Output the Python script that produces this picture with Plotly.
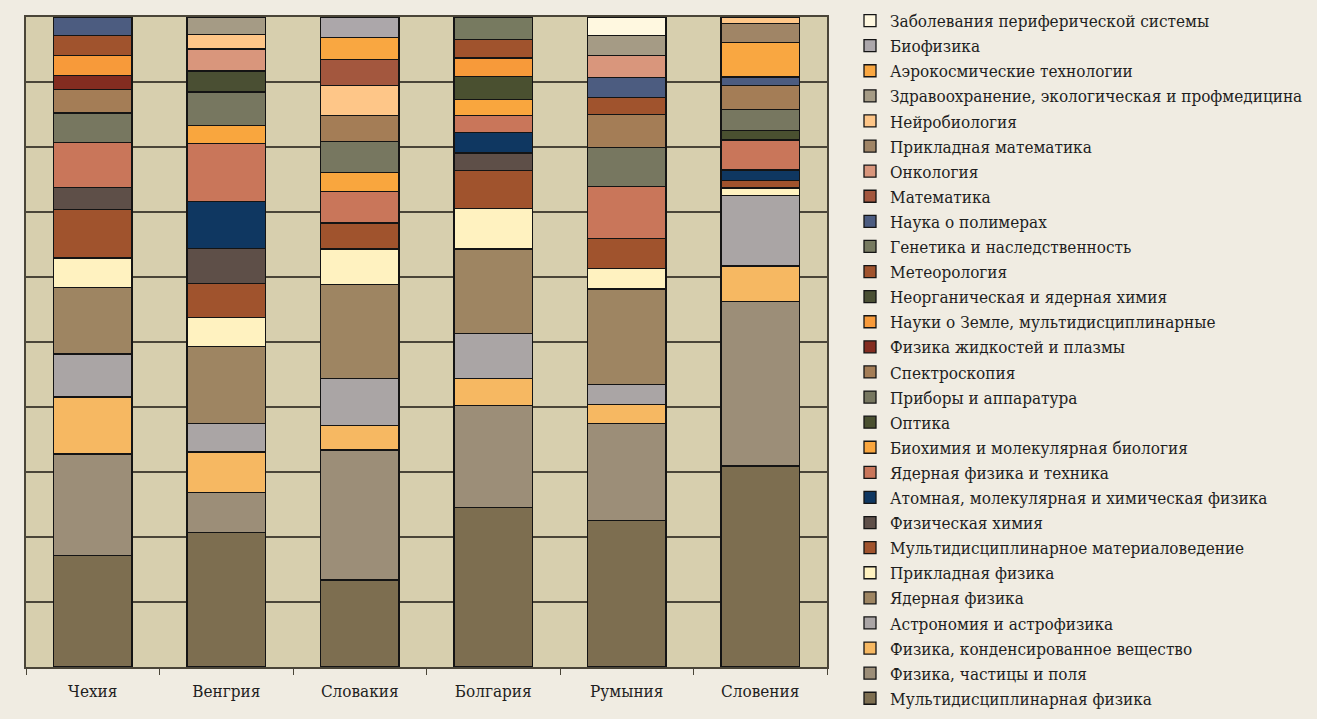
import plotly.graph_objects as go

countries = ["Чехия", "Венгрия", "Словакия", "Болгария", "Румыния", "Словения"]

# Legend order (top to bottom), with colours
legend_names = [
    "Заболевания периферической системы",
    "Биофизика",
    "Аэрокосмические технологии",
    "Здравоохранение, экологическая и профмедицина",
    "Нейробиология",
    "Прикладная математика",
    "Онкология",
    "Математика",
    "Наука о полимерах",
    "Генетика и наследственность",
    "Метеорология",
    "Неорганическая и ядерная химия",
    "Науки о Земле, мультидисциплинарные",
    "Физика жидкостей и плазмы",
    "Спектроскопия",
    "Приборы и аппаратура",
    "Оптика",
    "Биохимия и молекулярная биология",
    "Ядерная физика и техника",
    "Атомная, молекулярная и химическая физика",
    "Физическая химия",
    "Мультидисциплинарное материаловедение",
    "Прикладная физика",
    "Ядерная физика",
    "Астрономия и астрофизика",
    "Физика, конденсированное вещество",
    "Физика, частицы и поля",
    "Мультидисциплинарная физика",
]
legend_colors = [
    "#fff8e0", "#aca7aa", "#f9a741", "#a59b85", "#fec688", "#a08566",
    "#d9967c", "#a3573e", "#4c5c80", "#777a60", "#a0532d", "#4a4f33",
    "#f79a3a", "#832c20", "#a47d56", "#777760", "#4a5030", "#f9a63e",
    "#c9765a", "#0f3761", "#5e4f48", "#a0532d", "#fff2c0", "#9e8562",
    "#aaa5a5", "#f6b862", "#9c8e78", "#7d6e50",
]

# Stack layers, bottom to top (one category appears twice)
stack_order = [
    "Мультидисциплинарная физика",
    "Физика, частицы и поля",
    "Физика, конденсированное вещество",
    "Астрономия и астрофизика",
    "Ядерная физика",
    "Прикладная физика",
    "Мультидисциплинарное материаловедение",
    "Физическая химия",
    "Атомная, молекулярная и химическая физика",
    "Ядерная физика и техника",
    "Биохимия и молекулярная биология",
    "Оптика",
    "Приборы и аппаратура",
    "Спектроскопия",
    "Физика жидкостей и плазмы",
    "Науки о Земле, мультидисциплинарные",
    "Неорганическая и ядерная химия",
    "Метеорология",
    "Генетика и наследственность",
    "Наука о полимерах",
    "Аэрокосмические технологии",
    "Онкология",
    "Прикладная математика",
    "Нейробиология",
    "Математика",
    "Здравоохранение, экологическая и профмедицина",
    "Аэрокосмические технологии",
    "Биофизика",
    "Заболевания периферической системы",
]

# Shares (%) per country, aligned with stack_order
czech =    [17.2, 15.6, 8.8, 6.6, 10.2, 4.6, 7.5, 3.3, 0, 7.0, 0, 0, 4.5, 3.6, 2.2, 3.1, 0, 3.0, 0, 2.9, 0, 0, 0, 0, 0, 0, 0, 0, 0]
hungary =  [20.6, 6.2, 6.2, 4.4, 11.8, 4.4, 5.2, 5.4, 7.2, 8.9, 2.8, 0, 5.1, 0, 0, 0, 3.2, 0, 0, 0, 0, 3.4, 0, 2.2, 0, 2.7, 0, 0, 0]
slovakia = [13.4, 20.0, 3.8, 7.2, 14.4, 5.5, 4.0, 0, 0, 4.9, 2.9, 0, 4.8, 4.0, 0, 0, 0, 0, 0, 0, 0, 0, 0, 4.6, 4.0, 0, 3.3, 3.2, 0]
bulgaria = [24.5, 15.7, 4.2, 6.9, 13.0, 6.2, 5.9, 2.7, 3.1, 2.7, 2.4, 3.6, 0, 0, 0, 2.8, 0, 2.8, 3.5, 0, 0, 0, 0, 0, 0, 0, 0, 0, 0]
romania =  [22.5, 14.9, 2.9, 3.1, 14.7, 3.1, 4.7, 0, 0, 7.9, 0, 0, 6.0, 5.1, 0, 0, 0, 2.6, 0, 3.1, 0, 3.4, 0, 0, 0, 3.1, 0, 0, 2.8]
slovenia = [30.9, 25.3, 5.4, 10.8, 0, 1.2, 1.15, 0, 1.6, 4.6, 0, 1.5, 3.2, 3.7, 0, 0, 0, 0, 0, 1.3, 5.3, 0, 2.9, 1.0, 0, 0, 0, 0, 0]

country_values = [czech, hungary, slovakia, bulgaria, romania, slovenia]

color_of = dict(zip(legend_names, legend_colors))
rank_of = {n: i + 1 for i, n in enumerate(legend_names)}

FONT = "DejaVu Serif Condensed, Liberation Serif, serif"

fig = go.Figure()
for li, name in enumerate(stack_order):
    vals = [cv[li] if cv[li] else None for cv in country_values]
    last_idx = max(i for i, n in enumerate(stack_order) if n == name)
    fig.add_trace(go.Bar(
        x=countries, y=vals, name=name,
        marker=dict(color=color_of[name], line=dict(color="#141414", width=1.3)),
        showlegend=(li == last_idx), legendrank=rank_of[name],
        hovertemplate="%{x}: %{y:.1f}%<extra>" + name + "</extra>",
    ))

fig.update_layout(
    width=1317, height=719,
    barmode="stack", barnorm="percent", bargap=0.41,
    paper_bgcolor="#f0ece2", plot_bgcolor="#d7cfae",
    margin=dict(l=26, r=490, t=17, b=52, autoexpand=False),
    font=dict(family=FONT, size=17, color="#1e1e1e"),
    legend=dict(
        xref="container", yref="container",
        x=850 / 1317, xanchor="left", y=1.0 - 3 / 719, yanchor="top",
        bgcolor="rgba(0,0,0,0)", traceorder="normal", maxheight=1.0,
        font=dict(size=17, family=FONT, color="#1e1e1e"),
    ),
    xaxis=dict(
        showline=True, mirror=True, linecolor="#4a4538", linewidth=2,
        ticks="outside", tickson="boundaries", ticklen=6, tickcolor="#4a4538",
        showgrid=False, tickfont=dict(size=17), ticklabelstandoff=8,
    ),
    yaxis=dict(
        range=[0, 100], dtick=10, showticklabels=False,
        showgrid=True, gridcolor="#4a4538", gridwidth=1.6,
        showline=True, mirror=True, linecolor="#4a4538", linewidth=2,
        zeroline=False, ticks="",
    ),
)

fig.write_html(
    "out.html",
    config={"displayModeBar": False},
    post_script="document.body.style.margin='0';document.body.style.overflow='hidden';",
)
